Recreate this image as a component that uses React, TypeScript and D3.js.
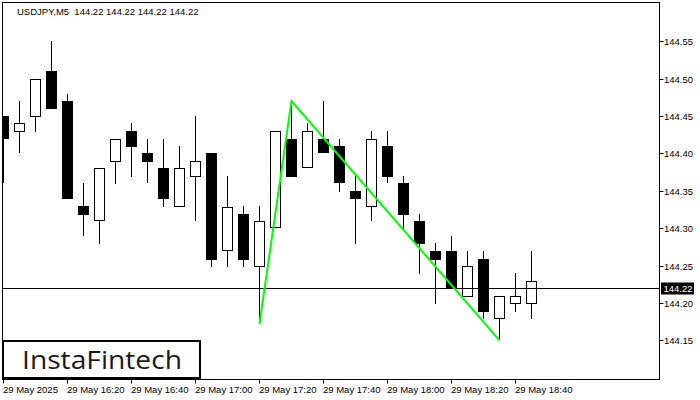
import React from "react";
import * as d3 from "d3";

const opens = [144.450, 144.429, 144.449, 144.510, 144.470, 144.330, 144.309, 144.389, 144.430, 144.400, 144.380, 144.329, 144.369, 144.400, 144.269, 144.319, 144.248, 144.300, 144.419, 144.380, 144.419, 144.410, 144.350, 144.329, 144.410, 144.360, 144.310, 144.270, 144.270, 144.208, 144.259, 144.179, 144.198, 144.198];
const highs = [144.450, 144.470, 144.500, 144.550, 144.479, 144.360, 144.380, 144.419, 144.441, 144.419, 144.419, 144.410, 144.450, 144.400, 144.370, 144.330, 144.330, 144.430, 144.470, 144.441, 144.470, 144.419, 144.370, 144.430, 144.430, 144.370, 144.319, 144.280, 144.290, 144.270, 144.270, 144.209, 144.240, 144.270];
const lows = [144.360, 144.400, 144.429, 144.459, 144.339, 144.289, 144.279, 144.359, 144.369, 144.360, 144.329, 144.329, 144.309, 144.248, 144.248, 144.248, 144.172, 144.300, 144.369, 144.380, 144.400, 144.349, 144.279, 144.309, 144.360, 144.299, 144.239, 144.198, 144.220, 144.208, 144.179, 144.150, 144.188, 144.179];
const closes = [144.419, 144.440, 144.500, 144.459, 144.339, 144.318, 144.380, 144.419, 144.409, 144.389, 144.339, 144.380, 144.390, 144.258, 144.329, 144.258, 144.310, 144.430, 144.369, 144.430, 144.400, 144.360, 144.339, 144.419, 144.369, 144.318, 144.279, 144.258, 144.220, 144.250, 144.188, 144.209, 144.209, 144.229];

const priceTicks = [144.15, 144.20, 144.25, 144.30, 144.35, 144.40, 144.45, 144.50, 144.55];
const timeTickIdx = [0, 4, 8, 12, 16, 20, 24, 28, 32];
const timeTickLabels = ["29 May 2025", "29 May 16:20", "29 May 16:40", "29 May 17:00", "29 May 17:20", "29 May 17:40", "29 May 18:00", "29 May 18:20", "29 May 18:40"];
const currentPrice = 144.22;
const headerText = "USDJPY,M5  144.22 144.22 144.22 144.22";
// pattern: index and price of the three points
const patternIdx = [16, 18, 31];
const patternPrice = [144.172, 144.47, 144.15];

const FONT = "'Liberation Sans', Arial, sans-serif";

export default function App() {
  const W = 700, H = 400;
  const left = 2.5, right = 659.5, top = 2.5, bottom = 379.5;
  const x = d3.scaleLinear().domain([0, 33]).range([3.5, 531.5]);
  const y = d3.scaleLinear().domain([144.20, 144.55]).range([303, 41.2]);
  const py = (p: number) => Math.round(y(p));
  const line = d3.line<[number, number]>().x(d => d[0]).y(d => d[1]);
  const greenPts: [number, number][] = patternIdx.map((k, i) => [x(k), y(patternPrice[i])]);
  const cpY = Math.round(y(currentPrice)) + 0.5;

  return (
    <svg width={W} height={H} style={{ position: "absolute", left: 0, top: 0, background: "#fff" }}>
      <defs>
        <clipPath id="plot">
          <rect x={left} y={top} width={right - left} height={bottom - top} />
        </clipPath>
      </defs>
      <rect x={0} y={0} width={W} height={H} fill="#fff" />
      <g clipPath="url(#plot)">
        {opens.map((o, i) => {
          const c = closes[i];
          const cx = x(i);
          const bull = c >= o;
          const yt = py(Math.max(o, c));
          const yb = py(Math.min(o, c));
          const yh = py(highs[i]);
          const yl = py(lows[i]);
          return (
            <g key={i}>
              <line x1={cx} x2={cx} y1={yh} y2={yl} stroke="#000" strokeWidth={1} />
              {bull ? (
                <rect x={cx - 5} y={yt + 0.5} width={10} height={Math.max(1, yb - yt - 1)} fill="#fff" stroke="#000" strokeWidth={1} />
              ) : (
                <rect x={cx - 5.5} y={yt} width={11} height={Math.max(1, yb - yt)} fill="#000" />
              )}
            </g>
          );
        })}
        <line x1={left} x2={right} y1={cpY} y2={cpY} stroke="#000" strokeWidth={1} />
        <path d={line(greenPts) || ""} fill="none" stroke="#00ff00" strokeWidth={2} strokeLinejoin="miter" />
      </g>
      <rect x={left} y={top} width={right - left} height={bottom - top} fill="none" stroke="#000" strokeWidth={1} />
      {priceTicks.map((p, i) => (
        <g key={i}>
          <line x1={right} x2={right + 4} y1={py(p) + 0.5} y2={py(p) + 0.5} stroke="#000" />
          <text x={664} y={py(p) + 4} fontFamily={FONT} fontSize={9.5} fill="#000">{p.toFixed(2)}</text>
        </g>
      ))}
      <rect x={661} y={cpY - 6} width={33} height={12} fill="#000" />
      <text x={663.5} y={cpY + 3.5} fontFamily={FONT} fontSize={9.5} fill="#fff">{currentPrice.toFixed(2)}</text>
      {timeTickIdx.map((k, i) => (
        <g key={i}>
          <line x1={x(k)} x2={x(k)} y1={bottom} y2={bottom + 4} stroke="#000" />
          <text x={x(k) - 0.5} y={393} fontFamily={FONT} fontSize={9.5} fill="#000">{timeTickLabels[i]}</text>
        </g>
      ))}
      <text x={17} y={15} fontFamily={FONT} fontSize={9.5} fill="#000" style={{ whiteSpace: "pre" }}>{headerText}</text>
      <rect x={3} y={341} width={197} height={37} fill="#fff" stroke="#000" strokeWidth={2} />
      <text x={22} y={368.5} fontFamily="'Open Sans', Lato, sans-serif" fontWeight={500} fontSize={25} fill="#1a1a1a" textLength={160} lengthAdjust="spacingAndGlyphs">InstaFintech</text>
    </svg>
  );
}
